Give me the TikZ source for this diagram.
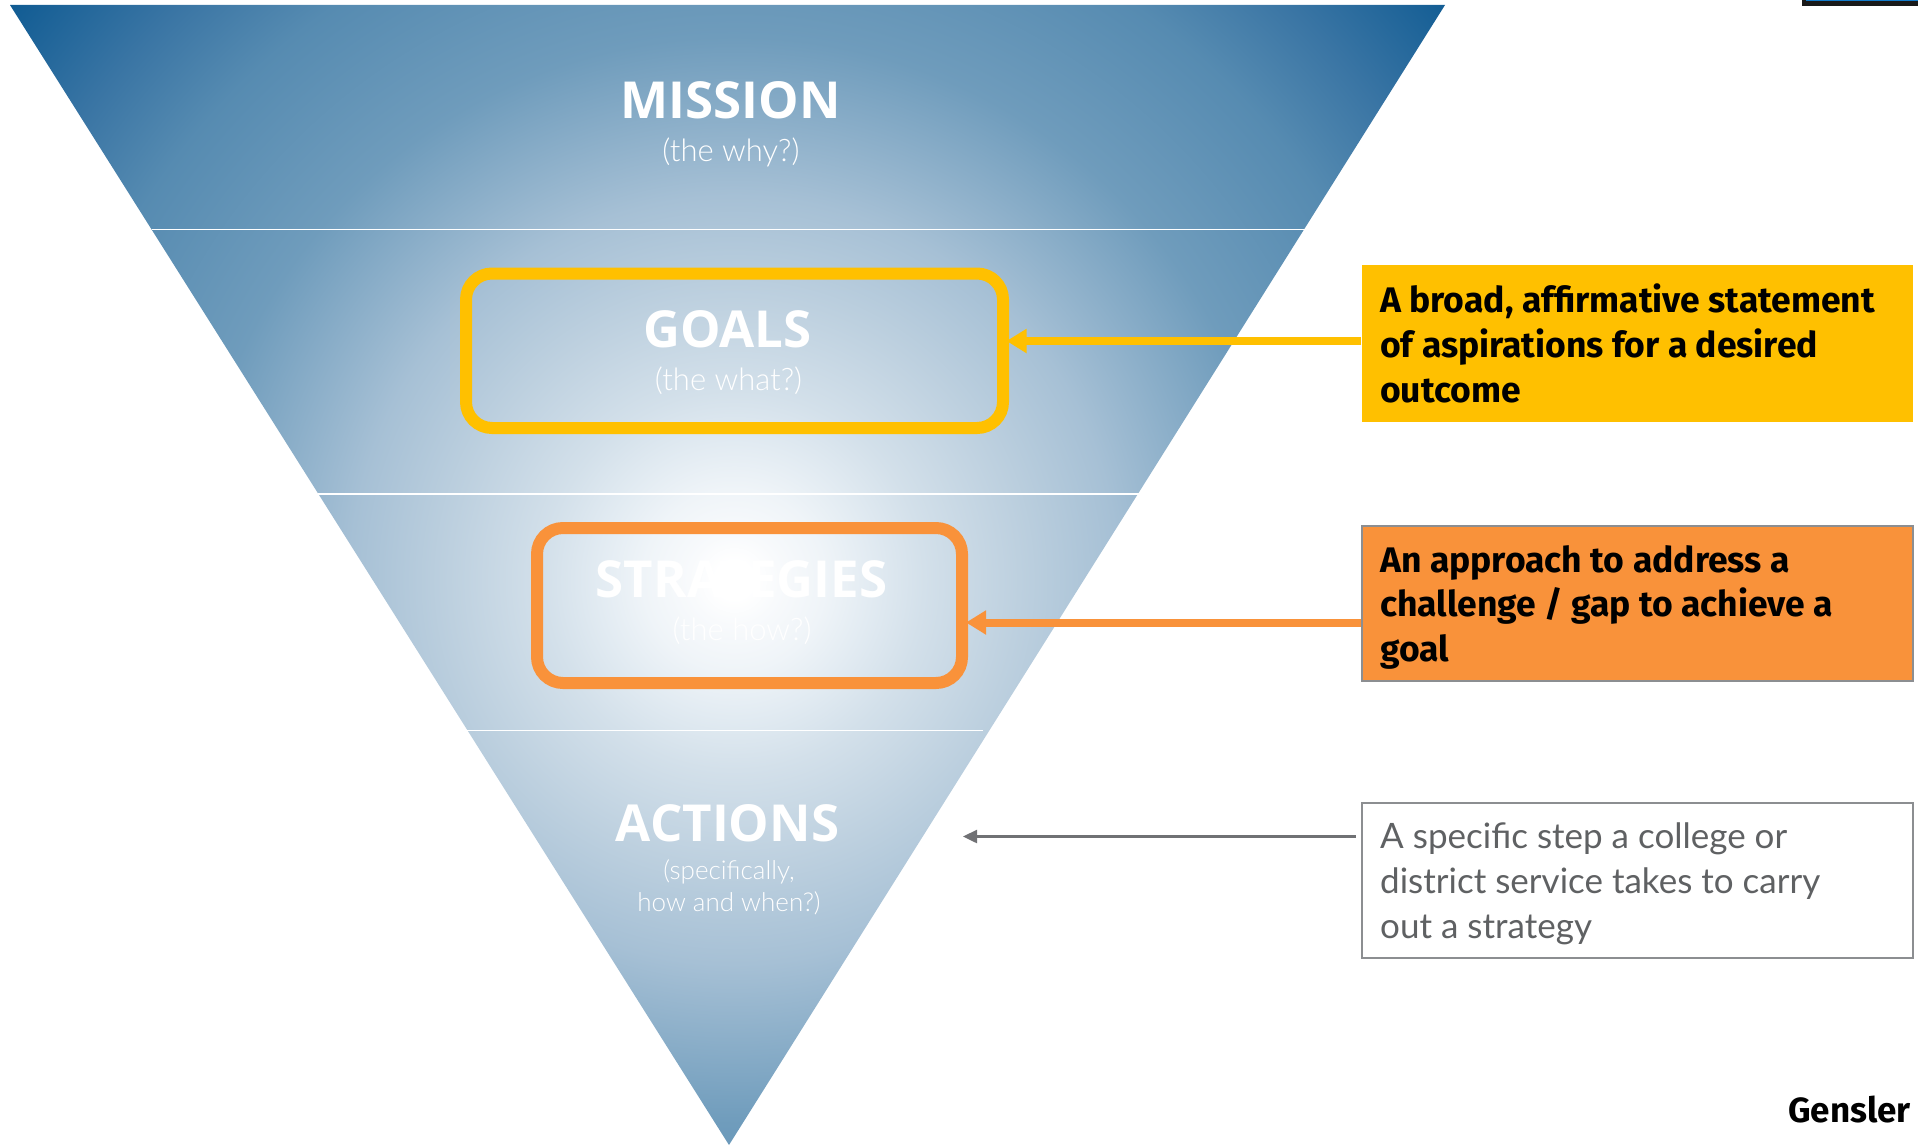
\documentclass[tikz,border=0pt]{standalone}
\usepackage{fontspec}
\setmainfont{Fira Sans}
\newfontfamily\titlefont{Open Sans}
\newfontfamily\lightfont{Lato Light}
\newfontfamily\regfont{Lato}
\usetikzlibrary{arrows.meta}
\definecolor{goalc}{HTML}{FFC000}
\definecolor{stratc}{HTML}{F9923A}
\definecolor{greyline}{HTML}{8C8E91}
\definecolor{greytext}{HTML}{5F6163}
\definecolor{funZ}{HTML}{F8FAFC}
\definecolor{funA}{HTML}{EFF4F8}
\definecolor{funB}{HTML}{E2EBF2}
\definecolor{funC}{HTML}{D3E0EA}
\definecolor{funC2}{HTML}{BDD0DF}
\definecolor{funD}{HTML}{A6C0D5}
\definecolor{funE}{HTML}{6F9CBC}
\definecolor{funF}{HTML}{568BB1}
\definecolor{funG}{HTML}{3A75A4}
\definecolor{funH}{HTML}{0E5A92}
\pgfdeclareradialshading{funnel}{\pgfpoint{0bp}{0bp}}{
 color(0bp)=(white);
 color(0.5bp)=(white);
 color(1.2bp)=(funZ);
 color(2.4bp)=(funA);
 color(3.6bp)=(funB);
 color(5bp)=(funC);
 color(7.5bp)=(funC2);
 color(10.1bp)=(funD);
 color(14.3bp)=(funE);
 color(18.4bp)=(funF);
 color(21bp)=(funG);
 color(24.5bp)=(funH);
 color(50bp)=(funH)}
\tikzset{
 x=1pt,y=-1pt,
 title/.style={font=\titlefont\bfseries\fontsize{51}{51}\selectfont,text=white,inner sep=0pt,anchor=base},
 sub/.style={font=\lightfont\fontsize{31}{32}\selectfont,text=white,inner sep=0pt,anchor=base},
 subsmall/.style={sub,font=\lightfont\fontsize{26}{32}\selectfont},
 sep/.style={white,line width=1.3pt},
 frame/.style={rounded corners=26pt,line width=12pt},
 note/.style={inner sep=0pt,align=left,anchor=north west},
 notebold/.style={note,text=black,font=\bfseries\fontsize{35.5}{44.7}\selectfont},
 notelight/.style={note,text=greytext,font=\regfont\fontsize{35}{44.7}\selectfont},
 panel/.style={minimum width=551pt,minimum height=155pt,inner sep=0pt},
}
\begin{document}
\begin{tikzpicture}
\useasboundingbox (0,0) rectangle (1918,1145);
\begin{scope}
 \clip (10,5) -- (1445,5) -- (729,1145) -- cycle;
 \shade[shading=funnel] (734,580) circle[radius=950];
\end{scope}
\coordinate (l1a) at (152,229.5); \coordinate (l1b) at (1305,229.5);
\coordinate (l2a) at (318,494); \coordinate (l2b) at (1139,494);
\coordinate (l3a) at (465,730.5); \coordinate (l3b) at (983,730.5);
\draw[sep] (l1a) -- (l1b);
\draw[sep] (l2a) -- (l2b);
\draw[sep] (l3a) -- (l3b);
\node[title] (mission) at (730.5,118) {MISSION};
\node[sub] (why) at (731,161) {(the why?)};
\node[title] (goals) at (727.5,347) {GOALS};
\node[sub] (what) at (728.5,390) {(the what?)};
\node[title] (strategies) at (741.5,597) {STRATEGIES};
\node[sub] (how) at (742,640) {(the how?)};
\node[title] (actions) at (727.5,841) {ACTIONS};
\node[subsmall] (spec) at (729,879) {(specifically,};
\node[subsmall] (when) at (729,911) {how and when?)};
\draw[goalc,frame] (466,273.5) rectangle (1003,428);
\draw[stratc,frame] (537,528) rectangle (962,683);
\node[panel,fill=goalc,minimum height=157pt] (b1) at (1637.5,343.5) {};
\node[panel,fill=stratc,draw=greyline,line width=1.5pt] (b2) at (1637.5,603.5) {};
\node[panel,fill=white,draw=greyline,line width=1.5pt] (b3) at (1637.5,880.5) {};
\coordinate (g) at (1006.5,341); \coordinate (s) at (966,622.5); \coordinate (a) at (963,836.5);
\coordinate (b1e) at (1361,341); \coordinate (b2e) at (1361,622.5); \coordinate (b3e) at (1356,836.5);
\draw[goalc,line width=8pt,-{Triangle[length=20pt,width=23pt]}] (b1e) -- (g);
\draw[stratc,line width=8pt,-{Triangle[length=20pt,width=23pt]}] (b2e) -- (s);
\draw[greyline!80!black,line width=2.5pt,-{Triangle[length=14pt,width=13pt]}] (b3e) -- (a);
\node[notebold] (t1) at (1380,284) {A broad, affirmative statement\\of aspirations for a desired\\outcome};
\node[notebold] (t2) at (1380,545) {An approach to address a\\challenge / gap to achieve a\\goal};
\node[notelight] (t3) at (1380,823) {A specific step a college or\\district service takes to carry\\out a strategy};
\node[inner sep=0pt,font=\bfseries\fontsize{35}{35}\selectfont,anchor=east] (gensler) at (1911,1109) {Gensler};
\fill[black!90] (1802,0) rectangle (1918,6);
\fill[cyan!60!blue] (1806,0) rectangle (1918,1.5);
\end{tikzpicture}
\end{document}
